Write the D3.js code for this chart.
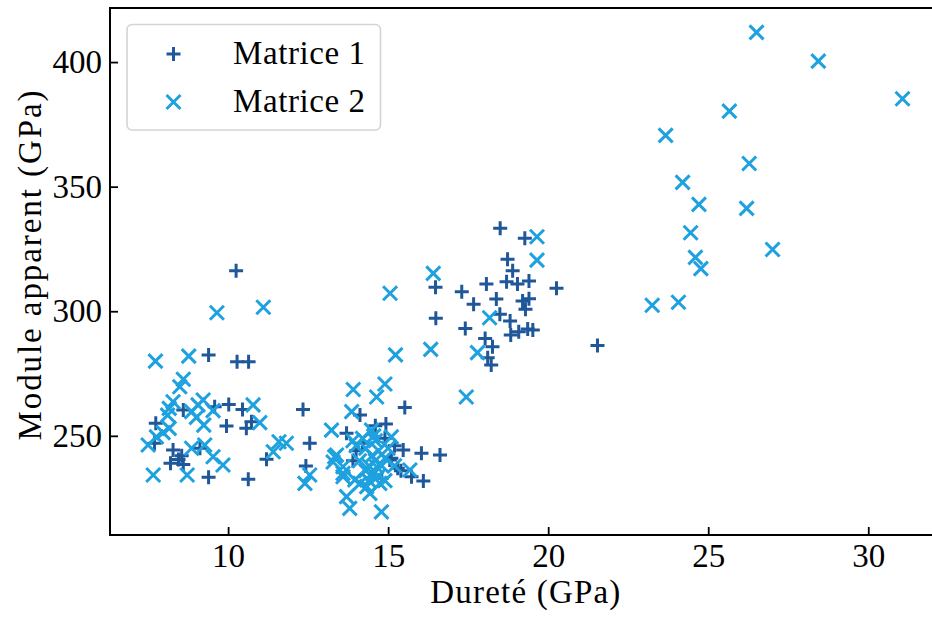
<!DOCTYPE html>
<html>
<head>
<meta charset="utf-8">
<script src="https://cdn.jsdelivr.net/npm/d3@7"></script>
<style>
  html, body { margin: 0; padding: 0; background: #fff; }
  svg { display: block; }
  text { font-family: "Liberation Serif", "Times New Roman", serif; fill: #000; }
</style>
</head>
<body>
<svg id="chart" width="932" height="617"></svg>
<script>
// ---- Data ----
const seriesNames = ["Matrice 1", "Matrice 2"];
const xTicks = [10, 15, 20, 25, 30];
const yTicks = [250, 300, 350, 400];
const xLabel = "Dureté (GPa)";
const yLabel = "Module apparent (GPa)";

// Matrice 1: [hardness, modulus]
const matrice1 = [
  [10.25, 316.3], [9.39, 282.4], [10.28, 279.7], [10.64, 279.7],
  [9.58, 261.7], [10.02, 262.6], [10.45, 260.6], [12.34, 260.6],
  [10.73, 255.7], [9.95, 253.9], [10.57, 253.0], [7.74, 255.0],
  [8.28, 244.3], [8.55, 242.0], [8.6, 238.5], [8.45, 240.5], [8.2, 239.0],
  [8.6, 260.4], [9.12, 245.0], [9.39, 233.4], [10.63, 232.6],
  [11.2, 240.6], [12.55, 247.0], [12.43, 237.9], [7.7, 247.0],
  [14.12, 258.4], [13.7, 251.0], [14.93, 254.7], [15.52, 261.4],
  [15.47, 244.3], [16.04, 243.0], [16.62, 242.3], [15.1, 241.0],
  [16.1, 231.9], [15.73, 233.6], [15.05, 240.3], [14.9, 249.0],
  [15.3, 237.0], [14.2, 247.0], [14.6, 254.0], [15.2, 246.0],
  [14.0, 244.0], [15.4, 236.0], [14.8, 233.0], [13.9, 240.0],
  [18.5, 333.3], [19.27, 329.3], [18.73, 320.9], [18.89, 316.3],
  [18.7, 311.8], [19.04, 310.9], [19.4, 312.1], [20.26, 309.2],
  [18.07, 310.9], [17.3, 307.8], [16.48, 309.6], [18.38, 304.9],
  [17.67, 302.8], [19.2, 304.1], [19.4, 305.0], [19.29, 300.8],
  [18.49, 298.8], [18.81, 296.1], [16.49, 297.2], [17.41, 293.1],
  [18.83, 290.5], [19.08, 291.8], [19.36, 292.9], [19.52, 292.5],
  [18.03, 289.1], [18.26, 285.8], [18.11, 281.3], [18.22, 278.4],
  [21.54, 286.3]
];

// Matrice 2: [hardness, modulus]
const matrice2 = [
  [26.51, 411.9], [28.44, 400.4], [31.07, 385.3], [25.66, 380.3],
  [23.67, 370.6], [26.28, 359.3], [24.2, 351.7], [24.71, 342.9],
  [26.2, 341.3], [24.45, 331.5], [27.01, 324.8], [24.6, 321.6],
  [24.77, 317.1], [23.25, 302.4], [24.07, 303.6],
  [19.65, 329.9], [19.65, 320.5], [16.41, 315.2], [15.06, 307.2],
  [18.17, 297.4], [16.33, 284.7], [15.23, 282.5], [17.79, 283.4],
  [17.44, 265.6], [14.9, 270.8], [14.64, 265.6],
  [9.65, 299.4], [11.1, 301.6], [7.73, 280.0], [8.77, 282.0],
  [8.6, 272.7], [8.49, 269.7], [8.28, 263.7], [8.16, 261.0],
  [8.11, 258.3], [8.86, 259.7], [9.06, 262.4], [9.22, 264.4],
  [9.01, 257.4], [9.24, 254.3], [9.53, 260.1], [10.78, 262.4],
  [10.99, 255.3], [7.97, 251.3], [7.76, 249.6], [7.5, 246.3],
  [8.16, 253.0], [8.86, 245.0], [9.27, 246.3], [9.53, 241.6],
  [9.84, 238.3], [7.66, 234.3], [8.72, 234.3], [11.59, 247.6],
  [11.82, 247.0], [11.41, 243.6], [12.55, 234.3], [12.4, 230.9],
  [13.23, 252.3], [13.33, 241.6],
  [13.91, 268.6], [13.86, 259.7], [14.48, 252.3], [15.1, 249.6],
  [15.68, 236.3], [13.39, 242.3], [13.28, 239.5], [13.59, 235.0],
  [13.7, 225.6], [13.8, 220.9], [14.79, 219.5], [14.12, 230.9],
  [14.43, 226.9], [14.64, 237.6], [13.96, 232.3], [14.33, 229.6],
  [14.74, 230.9], [13.59, 237.6], [13.59, 233.6],
  [14.3, 245.0], [14.5, 242.0], [14.7, 244.0], [14.4, 238.0],
  [14.6, 240.0], [14.8, 238.0], [14.5, 235.0], [14.9, 241.0],
  [14.2, 249.0], [14.0, 246.0], [14.6, 248.0], [15.0, 245.0],
  [14.3, 236.0], [14.7, 234.0], [14.1, 240.0], [14.4, 232.0],
  [13.9, 248.0], [15.2, 238.0], [14.9, 232.0], [14.55, 250.0]
];

const colors = ["#1f5799", "#1ea1df"];

// ---- Layout ----
const svg = d3.select("#chart");
const mLeft = 110, mRight = 940.6, mTop = 8, mBottom = 535;

const x = d3.scaleLinear().domain([6.31, 32.26]).range([mLeft, mRight]);
const y = d3.scaleLinear().domain([210.2, 421.7]).range([mBottom, mTop]);

const plusPath = r => `M${-r},0H${r}M0,${-r}V${r}`;
const crossPath = r => `M${-r},${-r}L${r},${r}M${-r},${r}L${r},${-r}`;
const markerPaths = [plusPath(7), crossPath(7)];

// ---- Points ----
[matrice1, matrice2].forEach((data, i) => {
  svg.append("g")
    .selectAll("path")
    .data(data)
    .join("path")
    .attr("transform", d => `translate(${x(d[0])},${y(d[1])})`)
    .attr("d", markerPaths[i])
    .attr("fill", "none")
    .attr("stroke", colors[i])
    .attr("stroke-width", 3);
});

// ---- Axes ----
const fontSize = 33;
const xAxis = svg.append("g")
  .attr("transform", `translate(0,${mBottom})`)
  .call(d3.axisBottom(x).tickValues(xTicks).tickSize(-8).tickPadding(9).tickFormat(d3.format("d")));
const yAxis = svg.append("g")
  .attr("transform", `translate(${mLeft},0)`)
  .call(d3.axisLeft(y).tickValues(yTicks).tickSize(-8).tickPadding(8).tickFormat(d3.format("d")));

[xAxis, yAxis].forEach(g => {
  g.select(".domain").remove();
  g.selectAll(".tick line").attr("stroke", "#000").attr("stroke-width", 1.8);
  g.selectAll(".tick text")
    .style("font-family", '"Liberation Serif", serif')
    .style("font-size", fontSize + "px")
    .attr("fill", "#000");
});

// frame (right spine lies just outside the picture)
svg.append("rect")
  .attr("x", mLeft).attr("y", mTop)
  .attr("width", mRight - mLeft).attr("height", mBottom - mTop)
  .attr("fill", "none").attr("stroke", "#000").attr("stroke-width", 2);

// axis labels
svg.append("text")
  .attr("x", (mLeft + mRight) / 2).attr("y", 603)
  .attr("text-anchor", "middle")
  .attr("textLength", 190).attr("lengthAdjust", "spacing")
  .style("font-size", fontSize + "px")
  .text(xLabel);

svg.append("text")
  .attr("transform", `translate(41,${(mTop + mBottom) / 2 - 6}) rotate(-90)`)
  .attr("text-anchor", "middle")
  .attr("textLength", 350).attr("lengthAdjust", "spacing")
  .style("font-size", fontSize + "px")
  .text(yLabel);

// ---- Legend ----
const lg = svg.append("g");
lg.append("rect")
  .attr("x", 127).attr("y", 24.5)
  .attr("width", 253.5).attr("height", 105.5)
  .attr("rx", 5).attr("ry", 5)
  .attr("fill", "rgba(255,255,255,0.8)")
  .attr("stroke", "#d4d4d4").attr("stroke-width", 1.6);

const legendRows = [54, 102];
seriesNames.forEach((name, i) => {
  lg.append("path")
    .attr("transform", `translate(173.5,${legendRows[i]})`)
    .attr("d", markerPaths[i])
    .attr("fill", "none")
    .attr("stroke", colors[i])
    .attr("stroke-width", 3);
  lg.append("text")
    .attr("x", 233).attr("y", legendRows[i] + 10)
    .attr("textLength", 132).attr("lengthAdjust", "spacing")
    .style("font-size", fontSize + "px")
    .text(name);
});
</script>
</body>
</html>
